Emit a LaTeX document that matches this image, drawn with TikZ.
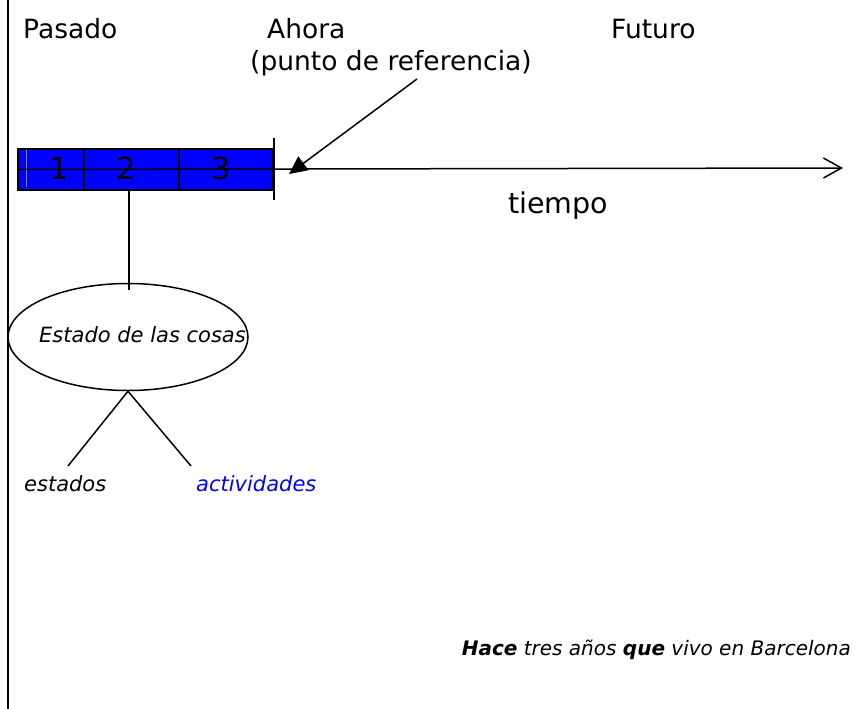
\documentclass[tikz,border=0pt]{standalone}
\usepackage{fontspec}
\setmainfont{DejaVu Sans}
\usetikzlibrary{positioning, arrows.meta, shapes.geometric}

\begin{document}
\begin{tikzpicture}[x=1pt, y=-1pt,
    line/.style={line width=1.5pt},
    head/.style={font=\fontsize{26.5}{32}\selectfont, inner sep=0pt, anchor=base west},
    txt/.style={font=\fontsize{21}{25}\selectfont\itshape, inner sep=0pt, anchor=base west}]
  \useasboundingbox (0,0) rectangle (855,709);
  % left border
  \coordinate (btop) at (8,0);
  \coordinate (bbot) at (8,709);
  \draw[line] (btop) -- (bbot);

  % headings
  \node[head] (pasado) at (23,39) {Pasado};
  \node[head] (ahora) at (267,39) {Ahora};
  \node[head] (ref) at (250,71) {(punto de referencia)};
  \node[head] (futuro) at (611,39) {Futuro};

  % blue box with three cells
  \node[draw, line width=2pt, fill=blue, minimum width=255pt, minimum height=41pt,
        inner sep=0pt, anchor=north west] (box) at (17,148) {};
  \draw[white, opacity=0.5, line width=0.6pt] (26,150) -- (26,187);
  \foreach \x in {84,179}
    \draw[line] (\x,148) -- (\x,189);

  % time axis
  \coordinate (tip) at (843,168);
  \draw[line, -{Straight Barb[length=18pt,width=20pt]}] (box.west) -- (tip);
  \foreach \n/\x in {1/59,2/126,3/221}
    \node[font=\fontsize{30.5}{36}\selectfont, inner sep=0pt] (n\n) at (\x,168) {\n};

  % now
  \coordinate (nowtop) at (274,138);
  \coordinate (nowbot) at (274,200);
  \draw[line] (nowtop) -- (nowbot);
  \coordinate (from) at (417,79);
  \coordinate (nowpt) at (289,174);
  \draw[line, -{Triangle[length=18pt,width=17pt]}] (from) -- (nowpt);

  \node[font=\fontsize{28.5}{34}\selectfont, inner sep=0pt, anchor=base west] (tiempo) at (508,213) {tiempo};

  % state of things
  \node[draw, line, ellipse, minimum width=240pt, minimum height=107pt, inner sep=0pt] (estado) at (128,337) {};
  \coordinate (stem) at (129,290);
  \draw[line] (box.south -| stem) -- (stem);
  \node[txt] (estadotxt) at (39,342) {Estado de las cosas};

  \coordinate (l) at (68,466);
  \coordinate (r) at (191,466);
  \draw[line] (l) -- (estado.south) -- (r);
  \node[txt] (estados) at (24,491) {estados};
  \node[txt, text=blue] (activ) at (196,491) {actividades};

  % example sentence
  \node[txt, font=\fontsize{20}{24}\selectfont\itshape, anchor=base east] (frase) at (851,655)
    {\textbf{Hace} tres años \textbf{que} vivo en Barcelona};
\end{tikzpicture}
\end{document}
